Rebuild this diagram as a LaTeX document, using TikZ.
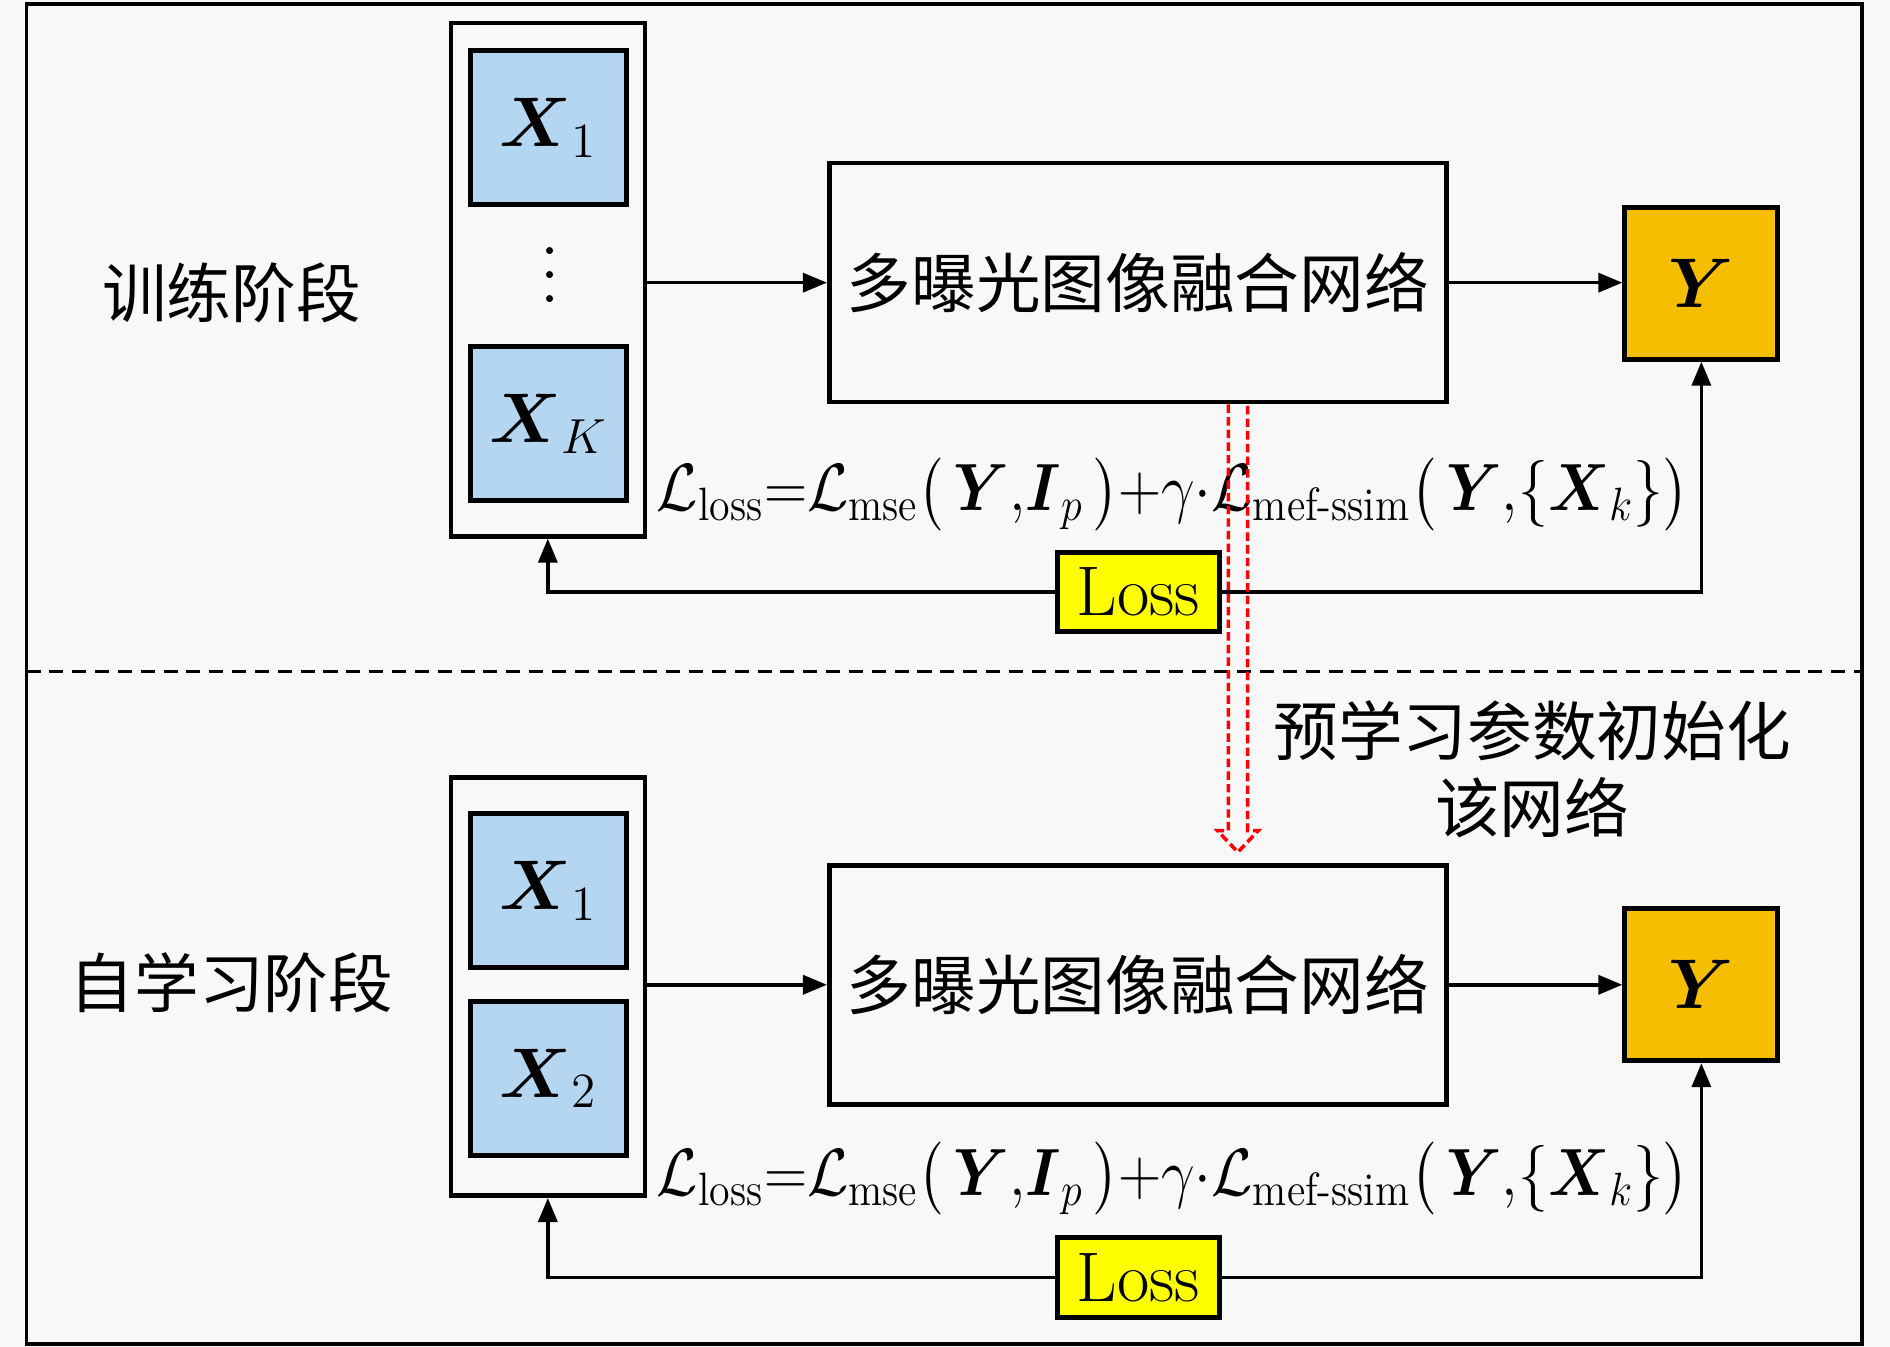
\documentclass[tikz,border=0pt]{standalone}
\usepackage{fix-cm}
\usepackage{amsmath}
\usepackage{fontspec}
\newfontfamily\cjk{Noto Sans CJK SC}
\usetikzlibrary{arrows.meta,positioning}

\definecolor{inblue}{HTML}{B4D6F0}
\definecolor{outgold}{HTML}{F5BE00}
\definecolor{lossyel}{HTML}{FFFF00}
\definecolor{paper}{HTML}{F8F8F8}

\newcommand{\losseq}{\scalebox{0.897}[1]{$\mathcal{L}_{\mathrm{loss}}{=}\mathcal{L}_{\mathrm{mse}}\bigl(\,\boldsymbol{Y}{,}\boldsymbol{I}_p\,\bigr){+}\gamma{\cdot}\mathcal{L}_{\text{mef-ssim}}\bigl(\,\boldsymbol{Y}{,}\{\boldsymbol{X}_k\}\bigr)$}}
\newcommand{\tallvdots}{\vbox{\baselineskip=6.8pt\lineskiplimit=0pt\hbox{.}\hbox{.}\hbox{.}}}

\begin{document}
\begin{tikzpicture}[x=0.12054mm, y=-0.12054mm,
    stage/.style={font=\cjk\fontsize{18.4}{22}\selectfont},
    holder/.style={draw, line width=1.3pt, minimum width=19.41mm},
    inbox/.style={draw, line width=1.4pt, fill=inblue, minimum width=15.67mm,
        minimum height=15.43mm, font=\fontsize{20}{24}\selectfont},
    netbox/.style={draw, line width=1.3pt, minimum width=61.72mm, minimum height=23.9mm,
        inner sep=0pt, font=\cjk\fontsize{18.4}{22}\selectfont},
    outbox/.style={draw, line width=1.4pt, fill=outgold, minimum width=15.31mm,
        minimum height=15.19mm, font=\fontsize{20}{24}\selectfont},
    lossbox/.style={draw, line width=1.4pt, fill=lossyel, minimum width=16.27mm,
        minimum height=7.96mm, inner sep=0pt, font=\fontsize{20}{24}\selectfont},
    formula/.style={inner sep=0pt, font=\fontsize{19}{23}\selectfont},
    flow/.style={line width=1pt, -{Triangle[length=2.4mm, width=1.9mm]}},
    initarrow/.style={draw=red, line width=1pt, dash pattern=on 2.4pt off 1.2pt}]

    \fill[paper] (0,0) rectangle (1568,1117.5);
    \draw[line width=1.1pt] (22,3) rectangle (1545,1115);
    \draw[line width=0.9pt, dash pattern=on 4pt off 2.5pt] (22,557) -- (1545,557);

    % training stage
    \node[stage] (train) at (192,243) {训练阶段};
    \node[holder, minimum height=51.35mm] (cont1) at (454.5,232) {};
    \node[inbox] (x1a) at (455,106) {$\boldsymbol{X}_1$};
    \node[font=\fontsize{24}{26}\selectfont, inner sep=0pt] (dots1) at (456,228) {\tallvdots};
    \node[inbox] (xka) at (455,351.5) {$\boldsymbol{X}_K$};
    \node[netbox] (net1) at (944,234.5) {多曝光图像融合网络};
    \node[outbox] (y1) at (1411.5,235) {$\boldsymbol{Y}$};
    \node[formula] (eq1) at (973,410) {\losseq};
    \node[lossbox] (loss1) at (944.5,491) {Loss};

    \draw[flow] (cont1.east |- net1.west) -- (net1.west);
    \draw[flow] (net1.east) -- (y1.west |- net1.east);
    \draw[flow] (loss1.west) -| (cont1.south);
    \draw[flow] (loss1.east) -| (y1.south);

    % self-learning stage
    \node[stage] (self) at (192,815) {自学习阶段};
    \node[holder, minimum height=41.83mm] (cont2) at (454.5,818.5) {};
    \node[inbox] (x1b) at (455,739) {$\boldsymbol{X}_1$};
    \node[inbox] (x2b) at (455,894.5) {$\boldsymbol{X}_2$};
    \node[netbox] (net2) at (944,817) {多曝光图像融合网络};
    \node[outbox] (y2) at (1411.5,817) {$\boldsymbol{Y}$};
    \node[formula] (eq2) at (973,978) {\losseq};
    \node[lossbox] (loss2) at (944.5,1060) {Loss};

    \draw[flow] (cont2.east |- net2.west) -- (net2.west);
    \draw[flow] (net2.east) -- (y2.west |- net2.east);
    \draw[flow] (loss2.west) -| (cont2.south);
    \draw[flow] (loss2.east) -| (y2.south);

    % parameter transfer
    \node[stage, align=center] (init) at (1271,638) {预学习参数初始化\\该网络};
    \draw[initarrow] ([xshift=9.04mm]net1.south)
        -- ([xshift=9.04mm, yshift=3.25mm]net2.north)
        -- ([xshift=7.95mm, yshift=3.25mm]net2.north)
        -- ([xshift=10mm, yshift=1.08mm]net2.north)
        -- ([xshift=12.05mm, yshift=3.25mm]net2.north)
        -- ([xshift=10.97mm, yshift=3.25mm]net2.north)
        -- ([xshift=10.97mm]net1.south);
\end{tikzpicture}
\end{document}
